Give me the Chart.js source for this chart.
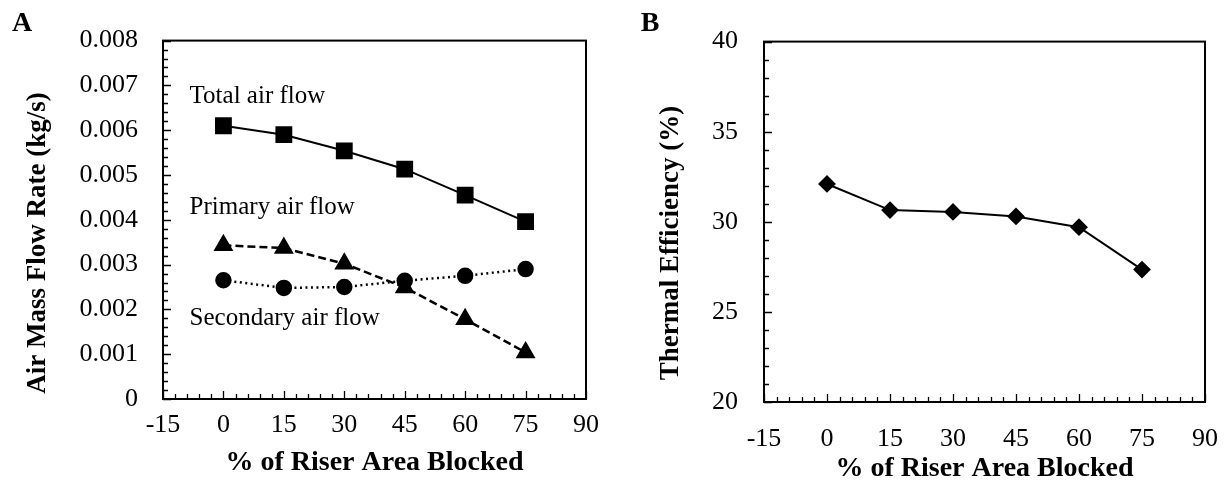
<!DOCTYPE html>
<html>
<head>
<meta charset="utf-8">
<script src="https://cdn.jsdelivr.net/npm/chart.js@4.4.1/dist/chart.umd.min.js"></script>
<style>
  body { margin: 0; background: #fff; }
  #wrap { position: relative; width: 1227px; height: 483px; }
  canvas { position: absolute; top: 0; }
  #flowChart { left: 0; }
  #effChart { left: 610px; }
</style>
</head>
<body>
<div id="wrap">
  <canvas id="flowChart" width="610" height="483"></canvas>
  <canvas id="effChart" width="617" height="483"></canvas>
</div>
<script>
// % of riser area blocked
const blocked = [0, 15, 30, 45, 60, 75];

// air mass flow rate (kg/s)
const totalAir = [0.0061, 0.0059, 0.00554, 0.00513, 0.00455, 0.00396];
const primaryAir = [0.00343, 0.00337, 0.00302, 0.00249, 0.00178, 0.00104];
const secondaryAir = [0.00265, 0.00248, 0.0025, 0.00264, 0.00275, 0.0029];

// thermal efficiency (%)
const thermalEff = [32.1, 30.65, 30.55, 30.3, 29.7, 27.35];

// major tick values
const xTicks = [-15, 0, 15, 30, 45, 60, 75, 90];
const flowTicks = [0, 0.001, 0.002, 0.003, 0.004, 0.005, 0.006, 0.007, 0.008];
const effTicks = [20, 25, 30, 35, 40];

const FONT = '"Liberation Serif", "DejaVu Serif", serif';

// majors plus 4 minor ticks between each pair
function withMinors(majors, sub = 5) {
    const out = [];
    majors.forEach((v, i) => {
        out.push({value: v, minor: false});
        if (i < majors.length - 1) {
            const step = (majors[i + 1] - v) / sub;
            for (let k = 1; k < sub; k++) out.push({value: v + step * k, minor: true});
        }
    });
    return out;
}

// box round the plot area + tick marks pointing inwards
const boxAndTicks = {
    id: 'boxAndTicks',
    afterDraw(chart, args, opts) {
        const {ctx, chartArea: {left, top, right, bottom}, scales: {x, y}} = chart;
        ctx.save();
        ctx.strokeStyle = '#000';
        ctx.lineWidth = 1.3;
        ctx.beginPath();
        x.ticks.forEach(t => {
            const px = Math.round(x.getPixelForValue(t.value)) + 0.5;
            ctx.moveTo(px, bottom);
            ctx.lineTo(px, bottom - (t.minor ? 5 : 8));
        });
        y.ticks.forEach(t => {
            const py = Math.round(y.getPixelForValue(t.value)) + 0.5;
            ctx.moveTo(left, py);
            ctx.lineTo(left + (t.minor ? 5 : 8), py);
        });
        ctx.stroke();
        ctx.lineWidth = 2;
        ctx.strokeRect(left, top, right - left, bottom - top);
        ctx.restore();
    }
};

// y axis title (centred on the canvas height) and the panel letter
const sideText = {
    id: 'sideText',
    afterDraw(chart, args, opts) {
        const {ctx} = chart;
        ctx.save();
        ctx.fillStyle = '#000';
        ctx.font = 'bold 28px ' + FONT;
        ctx.textAlign = 'center';
        ctx.textBaseline = 'middle';
        ctx.fillText(opts.panel, opts.panelX, 24);
        ctx.translate(opts.titleX, 243);
        ctx.rotate(-Math.PI / 2);
        ctx.font = 'bold 27px ' + FONT;
        ctx.fillText(opts.title, 0, 0);
        ctx.restore();
    }
};

// series names written next to the lines
const seriesNames = {
    id: 'seriesNames',
    afterDraw(chart, args, opts) {
        if (!opts.items) return;
        const {ctx, scales: {x, y}} = chart;
        ctx.save();
        ctx.fillStyle = '#000';
        ctx.font = '25px ' + FONT;
        ctx.textAlign = 'left';
        ctx.textBaseline = 'alphabetic';
        opts.items.forEach(it => {
            ctx.fillText(it.text, x.getPixelForValue(it.x), y.getPixelForValue(it.y));
        });
        ctx.restore();
    }
};

// tick padding also pads the plot's right side, so the label drop comes
// from lineHeight where needed
function xScale(height, padding, lineHeight, titlePad) {
    return {
        type: 'linear',
        min: -15,
        max: 90,
        afterBuildTicks: s => { s.ticks = withMinors(xTicks); },
        afterFit: s => { s.height = height; },
        grid: {display: false, drawTicks: false},
        border: {display: false},
        ticks: {
            autoSkip: false,
            maxRotation: 0,
            padding: padding,
            color: '#000',
            font: {family: FONT, size: 26, lineHeight: lineHeight},
            callback: (v, i, ticks) => ticks[i].minor ? '' : String(v)
        },
        title: {
            display: true,
            text: '% of Riser Area Blocked',
            color: '#000',
            font: {family: FONT, size: 28, weight: 'bold'},
            padding: {top: 0, bottom: titlePad}
        }
    };
}

function yScale(min, max, majors, width, padding, fmt) {
    return {
        type: 'linear',
        min: min,
        max: max,
        afterBuildTicks: s => { s.ticks = withMinors(majors); },
        afterFit: s => { s.width = width; },
        grid: {display: false, drawTicks: false},
        border: {display: false},
        ticks: {
            autoSkip: false,
            padding: padding,
            color: '#000',
            font: {family: FONT, size: 26},
            callback: (v, i, ticks) => ticks[i].minor ? '' : fmt(v)
        }
    };
}

const lineStyle = {
    borderColor: '#000',
    backgroundColor: '#000',
    pointBorderColor: '#000',
    pointBackgroundColor: '#000',
    borderWidth: 2,
    fill: false,
    tension: 0
};

new Chart(document.getElementById('flowChart').getContext('2d'), {
    type: 'line',
    data: {
        labels: blocked,
        datasets: [
            {...lineStyle, label: 'Total air flow', data: totalAir, pointStyle: 'rect', pointRadius: 10.5, pointHoverRadius: 10.5},
            {...lineStyle, label: 'Primary air flow', data: primaryAir, borderWidth: 2.5, borderDash: [8, 4], pointStyle: 'triangle', pointRadius: 9, pointHoverRadius: 9},
            {...lineStyle, label: 'Secondary air flow', data: secondaryAir, borderWidth: 2.5, borderDash: [2, 3.5], pointStyle: 'circle', pointRadius: 7, pointHoverRadius: 7}
        ]
    },
    options: {
        responsive: false,
        animation: false,
        layout: {autoPadding: false, padding: {top: 24, right: 24, left: 0, bottom: 0}},
        plugins: {
            legend: {display: false},
            tooltip: {enabled: false},
            sideText: {panel: 'A', panelX: 22, title: 'Air Mass Flow Rate (kg/s)', titleX: 38},
            seriesNames: {items: [
                {text: 'Total air flow', x: -8.4, y: 0.0066},
                {text: 'Primary air flow', x: -8.4, y: 0.00414},
                {text: 'Secondary air flow', x: -8.4, y: 0.00165}
            ]}
        },
        scales: {
            x: xScale(84, 11, 1.2, 3),
            y: yScale(0, 0.008, flowTicks, 163, 25, v => v === 0 ? '0' : v.toFixed(3))
        }
    },
    plugins: [boxAndTicks, sideText, seriesNames]
});

new Chart(document.getElementById('effChart').getContext('2d'), {
    type: 'line',
    data: {
        labels: blocked,
        datasets: [
            {...lineStyle, label: 'Thermal efficiency', data: thermalEff, pointStyle: 'rectRot', pointRadius: 7.5, pointHoverRadius: 7.5}
        ]
    },
    options: {
        responsive: false,
        animation: false,
        layout: {autoPadding: false, padding: {top: 21, right: 22, left: 0, bottom: 0}},
        plugins: {
            legend: {display: false},
            tooltip: {enabled: false},
            sideText: {panel: 'B', panelX: 40, title: 'Thermal Efficiency (%)', titleX: 61}
        },
        scales: {
            x: xScale(81, 9, 2.2, -3),
            y: yScale(20, 40, effTicks, 154, 26, v => String(Math.round(v)))
        }
    },
    plugins: [boxAndTicks, sideText, seriesNames]
});
</script>
</body>
</html>
